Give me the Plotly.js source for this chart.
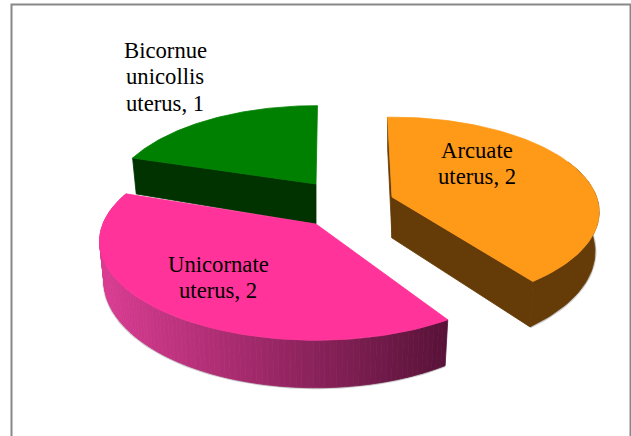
<!DOCTYPE html>
<html>
<head>
<meta charset="utf-8">
<script src="https://cdn.plot.ly/plotly-3.0.1.min.js"></script>
<style>html,body{margin:0;padding:0;background:#fff;overflow:hidden}</style>
</head>
<body>
<div id="chart" style="width:631px;height:436px"></div>
<script>
// Data
const categories = ["Arcuate uterus", "Unicornate uterus", "Bicornue unicollis uterus"];
const values = [2, 2, 1];
const labelLines = [["Arcuate", "uterus, 2"], ["Unicornate", "uterus, 2"], ["Bicornue", "unicollis", "uterus, 1"]];
const topColors = ["#FF9A18", "#FF3399", "#008000"];
const wallColors = ["#653B08", "#5A1238", "#003300"];

// Pie projection (pixels of the picture)
const perspective = 0.2, depth = 38, taper = 0.98;
const geometry = [
  {ax: 392, ay: 197, ad: 41, ox: 392, oy: 193, rx: 203, ry: 91, rot: -1.5, trimA: 0, trimB: 2},
  {ax: 316, ay: 224, ad: 40, ox: 316, oy: 221.5, rx: 212, ry: 95, rot: 0, trimA: 5, trimB: 0},
  {ax: 316, ay: 184, ad: 40, ox: 316, oy: 184, rx: 203, ry: 94, rot: 0.5, trimA: -1.5, trimB: 0}
];
const labelAnchors = [[477, 150], [218, 264], [165, 50]];
const lineStep = 26.8;

const total = values.reduce((a, b) => a + b, 0);
let acc = 0;
const spans = values.map((v, i) => {
  const a = acc; acc += v / total * 360;
  return [a + geometry[i].trimA, acc + geometry[i].trimB];
});

function project(i, deg, low) {
  const g = geometry[i], t = (deg + g.rot) * Math.PI / 180;
  const s = 1 / (1 + perspective * Math.cos(t));
  let x = g.rx * Math.sin(t) * s, y = -g.ry * Math.cos(t) * s;
  if (low) { x *= taper; y += depth * s; }
  return [g.ox + x, g.oy + y];
}
function apex(i, low) { const g = geometry[i]; return [g.ax, g.ay + (low ? g.ad : 0)]; }
function sweep(a, b, n) { const r = []; for (let k = 0; k <= n; k++) r.push(a + (b - a) * k / n); return r; }
function poly(pts, color) {
  const c = pts.concat([pts[0]]);
  return {type: "scatter", mode: "lines", x: c.map(p => p[0]), y: c.map(p => p[1]),
    fill: "toself", fillcolor: color, line: {color: color, width: 0.8},
    hoverinfo: "skip", showlegend: false};
}
function halo(pts) {
  return {type: "scatter", mode: "lines", x: pts.map(p => p[0]), y: pts.map(p => p[1]),
    line: {color: "rgba(110,110,110,0.35)", width: 3}, hoverinfo: "skip", showlegend: false};
}
function topFace(i) {
  const [a, b] = spans[i];
  return poly([apex(i, false)].concat(sweep(a, b, 90).map(d => project(i, d, false))), topColors[i]);
}
function mix(c1, c2, f) {
  return "rgb(" + c1.map((v, k) => Math.round(v + (c2[k] - v) * f)).join(",") + ")";
}

const traces = [];
// Bicornue: cut wall at its start angle
traces.push(poly([project(2, spans[2][0], false), apex(2, false), apex(2, true), project(2, spans[2][0], true)], wallColors[2]));
traces.push(topFace(2));
// Arcuate: back wall, front wall, outer rim
const rimA = sweep(70, spans[0][1], 50);
traces.push(halo(rimA.map(d => project(0, d, true))));
traces.push(poly([project(0, spans[0][0], false), apex(0, false), apex(0, true), project(0, spans[0][0], true)], wallColors[0]));
traces.push(poly([apex(0, false), project(0, spans[0][1], false), project(0, spans[0][1], true), apex(0, true)], wallColors[0]));
traces.push(poly(rimA.map(d => project(0, d, false)).concat(rimA.slice().reverse().map(d => project(0, d, true))), wallColors[0]));
traces.push(topFace(0));
// Unicornate: rim shaded from left to right
const bandCount = 110, rimLight = [218, 60, 146], rimDark = [88, 18, 56];
const bands = sweep(spans[1][0], spans[1][1], bandCount);
traces.push(halo(bands.map(d => project(1, d, true))));
const xs = bands.map(d => project(1, d, false)[0]);
const xMin = Math.min(...xs), xMax = Math.max(...xs);
for (let k = 0; k < bandCount; k++) {
  const a = bands[k], b = bands[k + 1];
  const f = (0.5 * (xs[k] + xs[k + 1]) - xMin) / (xMax - xMin);
  traces.push(poly([project(1, a, false), project(1, b, false), project(1, b, true), project(1, a, true)],
    mix(rimLight, rimDark, f)));
}
traces.push(topFace(1));

const annotations = [];
labelLines.forEach((lines, i) => lines.forEach((t, k) => annotations.push({
  x: labelAnchors[i][0], y: labelAnchors[i][1] + k * lineStep, xref: "x", yref: "y",
  text: t, showarrow: false, xanchor: "center", yanchor: "middle",
  font: {family: "Liberation Serif, Times New Roman, serif", size: 22.7, color: "#000"}
})));

Plotly.newPlot("chart", traces, {
  width: 631, height: 436, margin: {l: 0, r: 0, t: 0, b: 0},
  paper_bgcolor: "#fff", plot_bgcolor: "#fff", showlegend: false,
  xaxis: {range: [0, 631], visible: false, fixedrange: true},
  yaxis: {range: [436, 0], visible: false, fixedrange: true},
  annotations: annotations,
  shapes: [{type: "rect", xref: "x", yref: "y", x0: 11.5, y0: 4.5, x1: 630.5, y1: 445,
    line: {color: "#888", width: 2}, fillcolor: "rgba(0,0,0,0)"}]
}, {displayModeBar: false, staticPlot: true});
</script>
</body>
</html>
